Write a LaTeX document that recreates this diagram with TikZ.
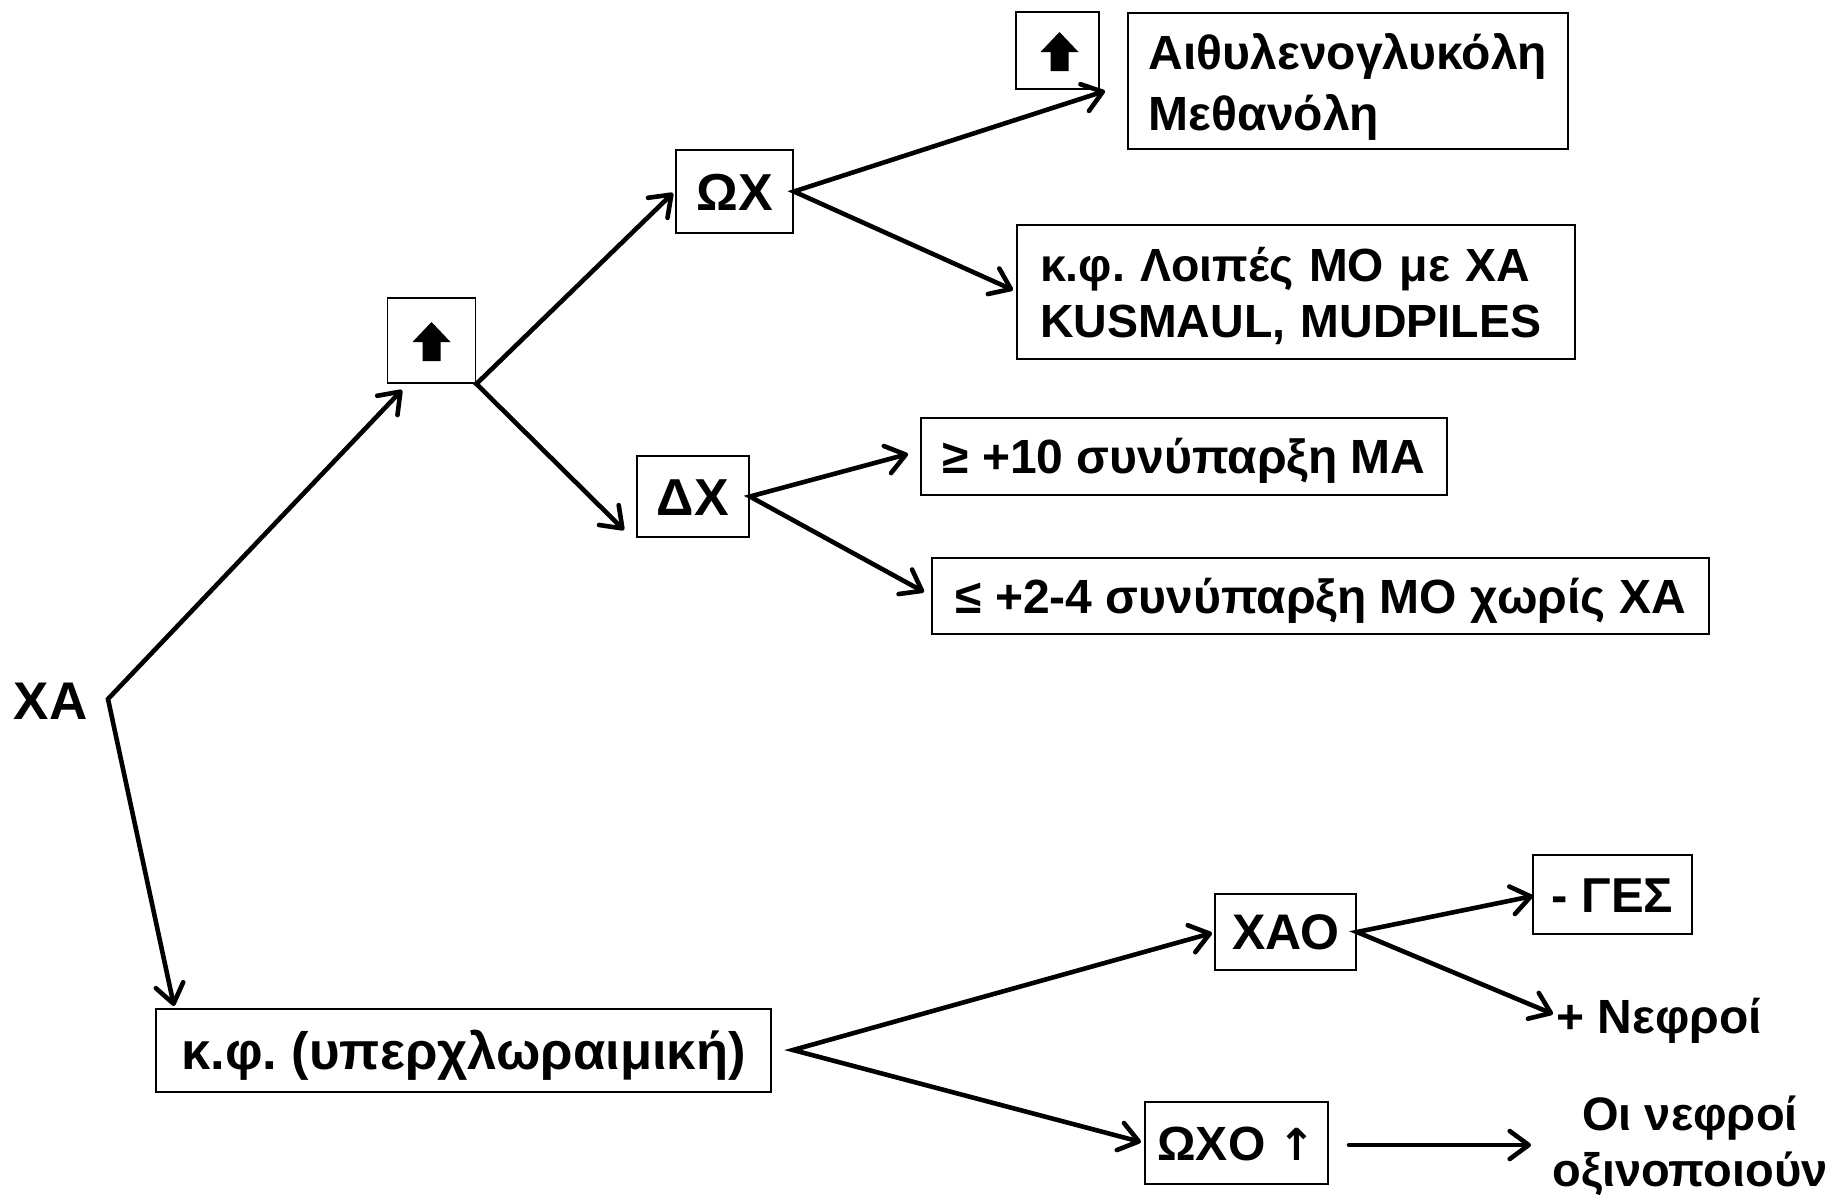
\documentclass[tikz,border=0pt]{standalone}
\usepackage{fontspec}
\setmainfont{Liberation Sans}
\newfontfamily\symfont{DejaVu Sans}
\usetikzlibrary{arrows.meta}
\newcommand\myfs[2]{\fontsize{#1pt}{#2pt}\selectfont\bfseries\frenchspacing}
\begin{document}
\begin{tikzpicture}[x=1pt,y=-1pt,
  >={Straight Barb[length=19pt,width=28pt,line cap=round,line join=round]},
  box/.style={draw, line width=1.8pt, inner sep=0pt},
  lbl/.style={inner sep=0pt},
  conn/.style={line width=4.6pt, line cap=round, line join=miter, ->},
  conn2/.style={line width=4.6pt, line cap=round, line join=miter, <->},
  upicon/.pic={\fill (0,-18.5) -- (19,1.5) -- (9,1.5) -- (9,20.5) -- (-9,20.5) -- (-9,1.5) -- (-19,1.5) -- cycle;}]
\useasboundingbox (0,0) rectangle (1835,1195);

% nodes
\node[lbl, font=\myfs{53}{53}, text height=38pt, text depth=0pt] (XA) at (50.5,700.5) {ΧΑ};
\node[box, minimum width=88pt, minimum height=85pt] (up) at (431.5,340.5) {};
\pic at (up.center) {upicon};
\node[box, minimum width=83pt, minimum height=77pt] (up2) at (1057.5,50.5) {};
\pic at ([xshift=2pt]up2.center) {upicon};
\node[box, minimum width=117pt, minimum height=83pt, font=\myfs{52}{52}, text height=37pt, text depth=0pt] (OX) at (734.5,191.5) {ΩΧ};
\node[box, minimum width=112pt, minimum height=81pt, font=\myfs{52}{52}, text height=37pt, text depth=0pt] (DX) at (693,496.5) {ΔΧ};
\node[box, minimum width=440pt, minimum height=136pt, align=left, font=\myfs{48}{61}] (aith) at (1348,81) {};
\node[lbl, align=left, font=\myfs{48}{61}] (aithT) at (1348,87) {Αιθυλενογλυκόλη\\Μεθανόλη};
\node[box, minimum width=558pt, minimum height=134pt] (kfl) at (1296,292) {};
\node[lbl, text width=512pt, align=left, font=\myfs{46.5}{56}] (kflT) at (1296,296) {κ.φ. Λοιπές ΜΟ με ΧΑ\\KUSMAUL, MUDPILES};
\node[box, minimum width=526pt, minimum height=77pt, font=\myfs{48}{48}, text height=34.4pt, text depth=0pt] (ge) at (1184,456.5) {≥ +10 συνύπαρξη ΜΑ};
\node[box, minimum width=777pt, minimum height=76pt, font=\myfs{48}{48}, text height=34.4pt, text depth=0pt] (le) at (1320.5,596) {≤ +2-4 συνύπαρξη ΜΟ χωρίς ΧΑ};
\node[box, minimum width=615pt, minimum height=83pt, font=\myfs{52.5}{52.5}, text height=37.6pt, text depth=0pt] (kf) at (463.5,1050.5) {κ.φ. (υπερχλωραιμική)};
\node[box, minimum width=141pt, minimum height=76pt, font=\myfs{50}{50}, text height=35.8pt, text depth=0pt] (XAO) at (1285.5,932) {ΧΑΟ};
\node[box, minimum width=159pt, minimum height=79pt, font=\myfs{49}{49}, text height=35pt, text depth=0pt] (GES) at (1612.5,894.5) {- ΓΕΣ};
\node[lbl, font=\myfs{48}{48}, text height=34.4pt, text depth=0pt] (nef) at (1659,1016) {+ Νεφροί};
\node[box, minimum width=183pt, minimum height=82pt, font=\myfs{48}{48}, text height=34.4pt, text depth=0pt] (OXO) at (1236.5,1143) {ΩΧΟ {\symfont\fontsize{44pt}{44pt}\selectfont ↑}};
\node[lbl, align=center, font=\myfs{47}{56}] (oi) at (1690,1146) {Οι νεφροί\\οξινοποιούν};

% connector points
\coordinate (split) at (108,699);
\coordinate (tUp) at (402,390);
\coordinate (tKF) at (174,1006);
\coordinate (tOX) at (673,193);
\coordinate (tDX) at (624,530);
\coordinate (tUp2) at (1105,91);
\coordinate (tKFL) at (1013,290);
\coordinate (tGE) at (908,454);
\coordinate (tLE) at (924,592);
\coordinate (kfs) at (793,1050);
\coordinate (tXAO) at (1212,933);
\coordinate (tOXO) at (1141,1142);
\coordinate (tGES) at (1533,896);
\coordinate (tNEF) at (1553,1014);
\coordinate (oxos) at (1349,1145);
\coordinate (tOI) at (1531,1145);

% connectors
\draw[conn2] (tUp) -- (split) -- (tKF);
\draw[conn2] (tOX) -- (up.south east) -- (tDX);
\draw[conn2] (tUp2) -- (OX.east) -- (tKFL);
\draw[conn2] (tGE) -- (DX.east) -- (tLE);
\draw[conn2] (tXAO) -- (kfs) -- (tOXO);
\draw[conn2] (tGES) -- (XAO.east) -- (tNEF);
\draw[conn] (oxos) -- (tOI);
\end{tikzpicture}
\end{document}
